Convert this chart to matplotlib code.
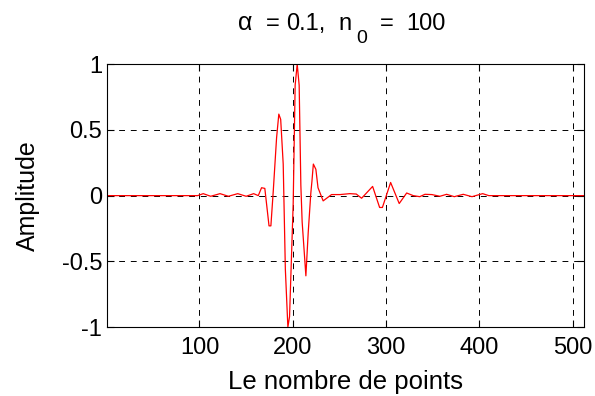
import matplotlib.pyplot as plt

plt.rcParams['font.family'] = ['Liberation Sans', 'DejaVu Sans']
plt.rcParams['axes.unicode_minus'] = False

# signal vertices (sample index, amplitude)
n = [1, 98, 104, 112, 122, 131, 141, 150, 158, 163, 166.5, 170, 174.5, 176.5,
     179, 182.6, 185, 187, 189.7, 192, 194.7, 196.5, 200.4, 202.5, 204.7,
     206.8, 208.6, 210, 214, 216.5, 219.3, 220.5, 222, 224.7, 227, 232.5,
     241.5, 250.5, 261, 268, 273.7, 285.5, 293, 296, 304.8, 314, 322, 329,
     336, 341.6, 349, 357.6, 364.8, 373, 382.6, 392, 403.4, 410, 512]
amp = [0, 0, 0.015, -0.005, 0.015, -0.005, 0.015, -0.005, 0.015, 0, 0.06,
       0.055, -0.23, -0.23, 0.03, 0.44, 0.62, 0.58, 0.24, -0.56, -1.0, -0.92,
       -0.06, 0.84, 1.0, 0.84, 0.08, -0.2, -0.61, -0.28, 0.02, 0.11, 0.24,
       0.2, 0.06, -0.04, 0.008, 0.008, 0.015, 0.012, -0.02, 0.07, -0.09,
       -0.09, 0.10, -0.06, 0.02, 0, -0.008, 0.01, 0.008, -0.005, 0.01,
       -0.008, 0.01, -0.008, 0.015, 0, 0]

xticks = [100, 200, 300, 400, 500]
yticks = [-1, -0.5, 0, 0.5, 1]
yticklabels = ['-1', '-0.5', '0', '0.5', '1']

fig = plt.figure(figsize=(5.95, 3.96), dpi=100)
ax = fig.add_axes([0.180, 0.174, 0.8015, 0.664])

ax.plot(n, amp, color='red', linewidth=0.9)

ax.set_xlim(1, 512)
ax.set_ylim(-1, 1)
ax.set_xticks(xticks)
ax.set_yticks(yticks)
ax.set_yticklabels(yticklabels)
ax.grid(True, color='black', linestyle=(0, (6, 6)), linewidth=0.7)
ax.tick_params(direction='in', top=True, right=True, labelsize=17, length=5)
ax.tick_params(axis='x', pad=7)
for s in ax.spines.values():
    s.set_linewidth(0.8)

ax.set_xlabel('Le nombre de points', fontsize=18.5, labelpad=8)
ax.set_ylabel('Amplitude', fontsize=18, labelpad=16)

# title: MATLAB spaces its tokens widely and uses a big, low subscript,
# so each token is placed on its own (pixel positions from the original)
W, H = 595, 396
title_parts = [('α', 238, 30, 18), ('=', 266, 30, 17), ('0.1,', 286, 30, 17),
               ('n', 338, 30, 17), ('0', 356, 43, 14), ('=', 380, 30, 17),
               ('100', 406, 30, 17)]
for s, px, py, fs in title_parts:
    fig.text(px / W, 1 - py / H, s, fontsize=fs, va='baseline', ha='left')

fig.savefig('out.png')
